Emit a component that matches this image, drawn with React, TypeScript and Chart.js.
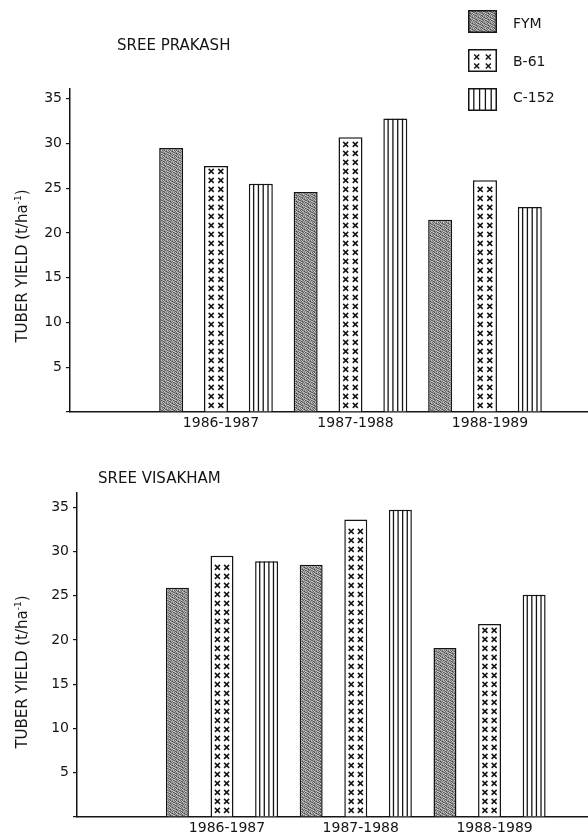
import React, { useEffect, useRef } from 'react';
import { Chart, registerables } from 'chart.js';

Chart.register(...registerables);

// ---------------- data ----------------
const YEARS = ['1986-1987', '1987-1988', '1988-1989'];
const SERIES = ['FYM', 'B-61', 'C-152'];

const PRAKASH_FYM = [29.5, 24.6, 21.5];
const PRAKASH_B61 = [27.5, 30.7, 25.9];
const PRAKASH_C152 = [25.5, 32.8, 22.9];

const VISAKHAM_FYM = [25.9, 28.5, 19.1];
const VISAKHAM_B61 = [29.5, 33.6, 21.8];
const VISAKHAM_C152 = [28.9, 34.7, 25.1];

const Y_STEP = 5;
const Y_TITLE = 'TUBER YIELD (t/ha';

// ---------------- style ----------------
const INK = '#151515';
const FONT = '"DejaVu Sans", "Liberation Sans", sans-serif';

const GRAIN = [
  [110, 190, 85, 160, 130, 200],
  [175, 100, 210, 120, 75, 150],
  [90, 155, 130, 195, 170, 105],
  [185, 120, 70, 145, 110, 205],
  [125, 200, 160, 95, 190, 85],
  [150, 80, 115, 180, 135, 165],
];

let grainPattern: CanvasPattern | null = null;
function getGrain(): CanvasPattern {
  if (!grainPattern) {
    const c = document.createElement('canvas');
    c.width = 6;
    c.height = 6;
    const g = c.getContext('2d')!;
    const img = g.createImageData(6, 6);
    for (let yy = 0; yy < 6; yy++) {
      for (let xx = 0; xx < 6; xx++) {
        const v = GRAIN[yy][xx];
        const i = (yy * 6 + xx) * 4;
        img.data[i] = v;
        img.data[i + 1] = v;
        img.data[i + 2] = v;
        img.data[i + 3] = 255;
      }
    }
    g.putImageData(img, 0, 0);
    grainPattern = g.createPattern(c, 'repeat')!;
  }
  return grainPattern;
}

// kind: 0 = FYM (grain), 1 = B-61 (crosses), 2 = C-152 (vertical lines)
function drawMarks(ctx: CanvasRenderingContext2D, kind: number, l: number, t: number, r: number, b: number) {
  const w = r - l;
  ctx.save();
  ctx.beginPath();
  ctx.rect(l, t, w, b - t);
  ctx.clip();
  ctx.strokeStyle = INK;
  if (kind === 1) {
    ctx.lineWidth = 1.5;
    for (let cy = b - 6; cy > t + 4; cy -= 9) {
      for (const fx of [0.3, 0.7]) {
        const cx = l + w * fx;
        ctx.beginPath();
        ctx.moveTo(cx - 2.5, cy - 2.5);
        ctx.lineTo(cx + 2.5, cy + 2.5);
        ctx.moveTo(cx - 2.5, cy + 2.5);
        ctx.lineTo(cx + 2.5, cy - 2.5);
        ctx.stroke();
      }
    }
  } else if (kind === 2) {
    ctx.lineWidth = 1.3;
    for (let k = 1; k < 5; k++) {
      const x = l + (w * k) / 5;
      ctx.beginPath();
      ctx.moveTo(x, t);
      ctx.lineTo(x, b);
      ctx.stroke();
    }
  }
  ctx.restore();
}

const hatchPlugin = {
  id: 'hatchMarks',
  afterDatasetsDraw(chart: any) {
    const ctx = chart.ctx as CanvasRenderingContext2D;
    chart.data.datasets.forEach((_ds: any, di: number) => {
      const meta = chart.getDatasetMeta(di);
      meta.data.forEach((bar: any) => {
        const p = bar.getProps(['x', 'y', 'base', 'width'], true);
        const top = Math.min(p.y, p.base);
        const bottom = Math.max(p.y, p.base);
        drawMarks(ctx, di, p.x - p.width / 2, top, p.x + p.width / 2, bottom);
      });
    });
  },
};

function Swatch({ kind, left, top }: { kind: number; left: number; top: number }) {
  const ref = useRef<HTMLCanvasElement>(null);
  useEffect(() => {
    const c = ref.current!;
    const ctx = c.getContext('2d')!;
    const w = c.width;
    const h = c.height;
    ctx.clearRect(0, 0, w, h);
    ctx.fillStyle = kind === 0 ? getGrain() : '#ffffff';
    ctx.fillRect(0, 0, w, h);
    drawMarks(ctx, kind, 0, 0, w, h);
    ctx.strokeStyle = INK;
    ctx.lineWidth = 1.5;
    ctx.strokeRect(0.75, 0.75, w - 1.5, h - 1.5);
  }, [kind]);
  return (
    <canvas
      ref={ref}
      width={29}
      height={23}
      style={{ position: 'absolute', left, top, display: 'block' }}
    />
  );
}

type PanelProps = {
  top: number;
  height: number;
  fym: number[];
  b61: number[];
  c152: number[];
  yWidth: number;
  padTop: number;
  xHeight: number;
  xMin: number;
  xMax: number;
  yMax: number;
  barPct: number;
  labelOffset: number;
};

function Panel(props: PanelProps) {
  const ref = useRef<HTMLCanvasElement>(null);
  useEffect(() => {
    const values = [props.fym, props.b61, props.c152];
    const datasets = SERIES.map((name, si) => ({
      label: name,
      data: values[si].map((v, i) => ({ x: i + 1, y: v })),
      backgroundColor: si === 0 ? getGrain() : '#ffffff',
      borderColor: INK,
      borderWidth: 1.5,
      borderSkipped: 'bottom' as const,
    }));
    const chart = new Chart(ref.current!, {
      type: 'bar',
      data: { datasets },
      plugins: [hatchPlugin],
      options: {
        animation: false,
        responsive: false,
        maintainAspectRatio: false,
        layout: { padding: { top: props.padTop, left: 0, right: 0, bottom: 0 } },
        plugins: { legend: { display: false }, tooltip: { enabled: false }, title: { display: false } },
        datasets: { bar: { categoryPercentage: 1, barPercentage: props.barPct, grouped: true } },
        scales: {
          x: {
            type: 'linear',
            min: props.xMin,
            max: props.xMax,
            offset: false,
            grid: { display: false, drawTicks: false, offset: false },
            border: { display: true, color: INK, width: 1.5 },
            ticks: {
              stepSize: 1,
              includeBounds: false,
              autoSkip: false,
              maxRotation: 0,
              minRotation: 0,
              padding: 3,
              labelOffset: props.labelOffset,
              color: INK,
              font: { family: FONT, size: 14 },
              callback: (v: any) => {
                const n = Number(v);
                return Number.isInteger(n) && n >= 1 && n <= YEARS.length ? YEARS[n - 1] : '';
              },
            },
            afterFit: (s: any) => {
              s.height = props.xHeight;
            },
          },
          y: {
            type: 'linear',
            min: 0,
            max: props.yMax,
            grid: { display: true, drawOnChartArea: false, drawTicks: true, tickLength: 4, color: INK, lineWidth: 1.2 },
            border: { display: true, color: INK, width: 1.5 },
            ticks: {
              stepSize: Y_STEP,
              includeBounds: false,
              padding: 4,
              color: INK,
              font: { family: FONT, size: 14 },
              callback: (v: any) => (Number(v) === 0 ? '' : String(v)),
            },
            afterFit: (s: any) => {
              s.width = props.yWidth;
            },
          },
        },
      } as any,
    });
    return () => chart.destroy();
  }, []);
  return (
    <canvas
      ref={ref}
      width={588}
      height={props.height}
      style={{ position: 'absolute', left: 0, top: props.top, display: 'block' }}
    />
  );
}

function YTitle({ cx, cy }: { cx: number; cy: number }) {
  return (
    <div
      style={{
        position: 'absolute',
        left: cx,
        top: cy,
        transform: 'translate(-50%, -50%) rotate(-90deg)',
        whiteSpace: 'nowrap',
        fontSize: 15,
        lineHeight: '18px',
      }}
    >
      {Y_TITLE}
      <sup style={{ fontSize: 9, lineHeight: 0 }}>-1</sup>)
    </div>
  );
}

export default function App() {
  const legendTops = [10, 49, 88];
  const legendTextCenters = [23, 61, 97];
  return (
    <div
      style={{
        position: 'absolute',
        left: 0,
        top: 0,
        width: 588,
        height: 834,
        background: '#ffffff',
        fontFamily: FONT,
        color: INK,
        overflow: 'hidden',
      }}
    >
      <Panel
        top={0}
        height={434}
        fym={PRAKASH_FYM}
        b61={PRAKASH_B61}
        c152={PRAKASH_C152}
        yWidth={70}
        padTop={89}
        xHeight={22}
        xMin={-0.0855}
        xMax={3.766}
        yMax={36.1}
        barPct={0.535}
        labelOffset={5}
      />
      <Panel
        top={434}
        height={400}
        fym={VISAKHAM_FYM}
        b61={VISAKHAM_B61}
        c152={VISAKHAM_C152}
        yWidth={77}
        padTop={59}
        xHeight={17}
        xMin={-0.084}
        xMax={3.736}
        yMax={36.6}
        barPct={0.515}
        labelOffset={5}
      />
      <div style={{ position: 'absolute', left: 117, top: 36, fontSize: 15, lineHeight: '18px', whiteSpace: 'nowrap' }}>
        SREE PRAKASH
      </div>
      <div style={{ position: 'absolute', left: 98, top: 469, fontSize: 15, lineHeight: '18px', whiteSpace: 'nowrap' }}>
        SREE VISAKHAM
      </div>
      <YTitle cx={22} cy={266} />
      <YTitle cx={22} cy={672} />
      {SERIES.map((name, i) => (
        <React.Fragment key={name}>
          <Swatch kind={i} left={468} top={legendTops[i]} />
          <div
            style={{
              position: 'absolute',
              left: 513,
              top: legendTextCenters[i] - 9,
              fontSize: 14,
              lineHeight: '18px',
              whiteSpace: 'nowrap',
            }}
          >
            {name}
          </div>
        </React.Fragment>
      ))}
    </div>
  );
}
